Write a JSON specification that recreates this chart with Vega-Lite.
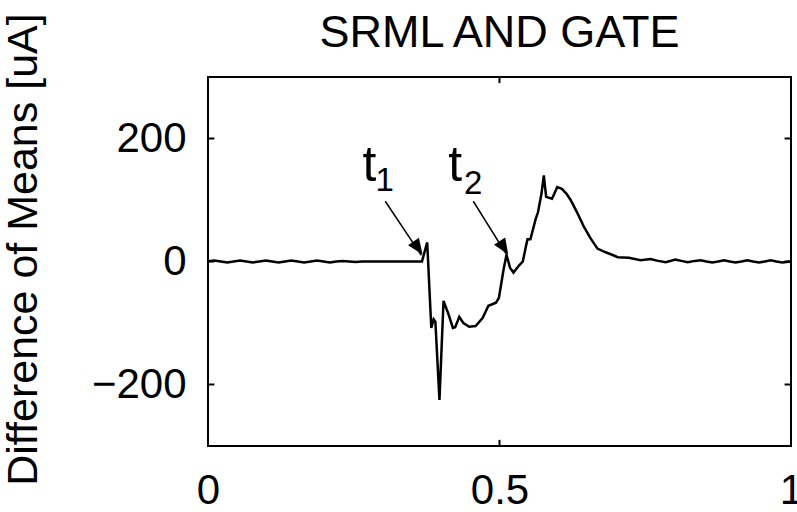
{
  "$schema": "https://vega.github.io/schema/vega-lite/v6.json",
  "autosize": "none",
  "width": 583,
  "height": 369,
  "padding": {"left": 208, "top": 77, "right": 6, "bottom": 66},
  "background": "white",
  "config": {
    "view": {"stroke": "black", "strokeWidth": 2},
    "font": "Liberation Sans",
    "axis": {"grid": false, "domain": false, "ticks": false, "labelColor": "black", "labelFont": "Liberation Sans", "labelFontSize": 42, "titleFont": "Liberation Sans", "titleFontWeight": "normal", "titleColor": "black", "titleFontSize": 43}
  },
  "title": {"text": "SRML AND GATE", "fontSize": 45, "fontWeight": "normal", "color": "black", "offset": -88, "font": "Liberation Sans", "baseline": "bottom", "frame": "group"},
  "datasets": {
    "curve": [
      {"t": 0.0, "v": 0.5}, {"t": 0.011, "v": 1.5}, {"t": 0.022, "v": 0}, {"t": 0.033, "v": -1.5},
      {"t": 0.044, "v": 0}, {"t": 0.055, "v": 1.5}, {"t": 0.066, "v": 0}, {"t": 0.077, "v": -1.5},
      {"t": 0.088, "v": 0}, {"t": 0.099, "v": 1.5}, {"t": 0.11, "v": 0}, {"t": 0.121, "v": -1.5},
      {"t": 0.132, "v": 0}, {"t": 0.143, "v": 1.5}, {"t": 0.154, "v": 0}, {"t": 0.165, "v": -1.5},
      {"t": 0.176, "v": 0}, {"t": 0.187, "v": 1.5}, {"t": 0.198, "v": 0}, {"t": 0.209, "v": -1.5},
      {"t": 0.22, "v": 0}, {"t": 0.231, "v": 1}, {"t": 0.242, "v": 0}, {"t": 0.253, "v": -1},
      {"t": 0.264, "v": 0}, {"t": 0.367, "v": 0},
      {"t": 0.376, "v": 31}, {"t": 0.383, "v": -108}, {"t": 0.387, "v": -94}, {"t": 0.39, "v": -98},
      {"t": 0.397, "v": -225}, {"t": 0.404, "v": -64}, {"t": 0.413, "v": -87}, {"t": 0.42, "v": -108},
      {"t": 0.424, "v": -107}, {"t": 0.431, "v": -90}, {"t": 0.438, "v": -100}, {"t": 0.448, "v": -106},
      {"t": 0.459, "v": -105}, {"t": 0.471, "v": -92}, {"t": 0.481, "v": -72}, {"t": 0.494, "v": -67},
      {"t": 0.499, "v": -59}, {"t": 0.507, "v": -13}, {"t": 0.512, "v": 11}, {"t": 0.518, "v": -10},
      {"t": 0.524, "v": -18}, {"t": 0.533, "v": -7}, {"t": 0.54, "v": 0}, {"t": 0.545, "v": 23},
      {"t": 0.548, "v": 36}, {"t": 0.553, "v": 36}, {"t": 0.562, "v": 69}, {"t": 0.566, "v": 80},
      {"t": 0.572, "v": 110}, {"t": 0.576, "v": 140}, {"t": 0.58, "v": 105}, {"t": 0.59, "v": 102},
      {"t": 0.594, "v": 110}, {"t": 0.599, "v": 121}, {"t": 0.607, "v": 118}, {"t": 0.615, "v": 110},
      {"t": 0.622, "v": 100}, {"t": 0.633, "v": 80}, {"t": 0.644, "v": 58}, {"t": 0.656, "v": 38},
      {"t": 0.668, "v": 21}, {"t": 0.682, "v": 15}, {"t": 0.693, "v": 11}, {"t": 0.703, "v": 7},
      {"t": 0.722, "v": 6}, {"t": 0.742, "v": 2}, {"t": 0.759, "v": 4}, {"t": 0.772, "v": 1},
      {"t": 0.785, "v": -1}, {"t": 0.802, "v": 3}, {"t": 0.812, "v": 1}, {"t": 0.823, "v": -1},
      {"t": 0.835, "v": 1}, {"t": 0.845, "v": 2}, {"t": 0.855, "v": 0}, {"t": 0.865, "v": -1.5},
      {"t": 0.875, "v": 0}, {"t": 0.885, "v": 2}, {"t": 0.895, "v": 0}, {"t": 0.905, "v": -1.5},
      {"t": 0.915, "v": 0}, {"t": 0.925, "v": 2}, {"t": 0.935, "v": 0}, {"t": 0.945, "v": -1.5},
      {"t": 0.955, "v": 0}, {"t": 0.965, "v": 2}, {"t": 0.975, "v": 0}, {"t": 0.985, "v": -1.5},
      {"t": 1.0, "v": 0}
    ],
    "xticks": [
      {"x": 0.5, "y": -300, "y2": -290}, {"x": 0.5, "y": 300, "y2": 290}
    ],
    "yticks": [
      {"x": 0, "x2": 0.011, "y": -200}, {"x": 0, "x2": 0.011, "y": 0}, {"x": 0, "x2": 0.011, "y": 200},
      {"x": 1, "x2": 0.989, "y": -200}, {"x": 1, "x2": 0.989, "y": 0}, {"x": 1, "x2": 0.989, "y": 200}
    ],
    "arrows": [
      {"x0": 0.304, "y0": 98, "x1": 0.366, "y1": 10},
      {"x0": 0.455, "y0": 98, "x1": 0.513, "y1": 10}
    ],
    "heads": [
      {"x": 0.368, "y": 11.5, "ang": 325},
      {"x": 0.515, "y": 11.5, "ang": 327}
    ],
    "tlabels": [
      {"x": 0.277, "y": 131, "s": "t"},
      {"x": 0.424, "y": 131, "s": "t"}
    ],
    "subs": [
      {"x": 0.303, "y": 115, "s": "1"},
      {"x": 0.455, "y": 110, "s": "2"}
    ]
  },
  "encoding": {
    "x": {"type": "quantitative", "scale": {"domain": [0, 1], "nice": false, "zero": false}},
    "y": {"type": "quantitative", "scale": {"domain": [-300, 300], "nice": false, "zero": false}}
  },
  "layer": [
    {
      "data": {"name": "curve"},
      "mark": {"type": "line", "color": "black", "strokeWidth": 2.5, "clip": true},
      "encoding": {
        "x": {"field": "t", "type": "quantitative",
              "axis": {"orient": "bottom", "values": [0, 0.5, 1], "format": "~g", "labelPadding": 24, "title": null, "labelFlush": false}},
        "y": {"field": "v", "type": "quantitative",
              "axis": {"orient": "left", "values": [-200, 0, 200], "labelPadding": 22, "title": "Difference of Means [uA]", "titleX": -172, "titleY": 172, "titleAngle": -90, "titleAlign": "center", "titleBaseline": "alphabetic"}}
      }
    },
    {
      "data": {"name": "xticks"},
      "mark": {"type": "rule", "color": "black", "strokeWidth": 2},
      "encoding": {
        "x": {"field": "x", "type": "quantitative"},
        "y": {"field": "y", "type": "quantitative"},
        "y2": {"field": "y2"}
      }
    },
    {
      "data": {"name": "yticks"},
      "mark": {"type": "rule", "color": "black", "strokeWidth": 2},
      "encoding": {
        "x": {"field": "x", "type": "quantitative"},
        "x2": {"field": "x2"},
        "y": {"field": "y", "type": "quantitative"}
      }
    },
    {
      "data": {"name": "arrows"},
      "mark": {"type": "rule", "color": "black", "strokeWidth": 1.5},
      "encoding": {
        "x": {"field": "x0", "type": "quantitative"},
        "y": {"field": "y0", "type": "quantitative"},
        "x2": {"field": "x1"},
        "y2": {"field": "y1"}
      }
    },
    {
      "data": {"name": "heads"},
      "mark": {"type": "point", "shape": "M0,0L-0.42,-1L0.42,-1Z", "filled": true, "color": "black", "opacity": 1, "size": 1000},
      "encoding": {
        "x": {"field": "x", "type": "quantitative"},
        "y": {"field": "y", "type": "quantitative"},
        "angle": {"field": "ang", "type": "quantitative", "scale": null}
      }
    },
    {
      "data": {"name": "tlabels"},
      "mark": {"type": "text", "fontSize": 50, "color": "black", "align": "center", "baseline": "alphabetic"},
      "encoding": {
        "x": {"field": "x", "type": "quantitative"},
        "y": {"field": "y", "type": "quantitative"},
        "text": {"field": "s"}
      }
    },
    {
      "data": {"name": "subs"},
      "mark": {"type": "text", "fontSize": 33, "color": "black", "align": "center", "baseline": "alphabetic"},
      "encoding": {
        "x": {"field": "x", "type": "quantitative"},
        "y": {"field": "y", "type": "quantitative"},
        "text": {"field": "s"}
      }
    }
  ]
}
